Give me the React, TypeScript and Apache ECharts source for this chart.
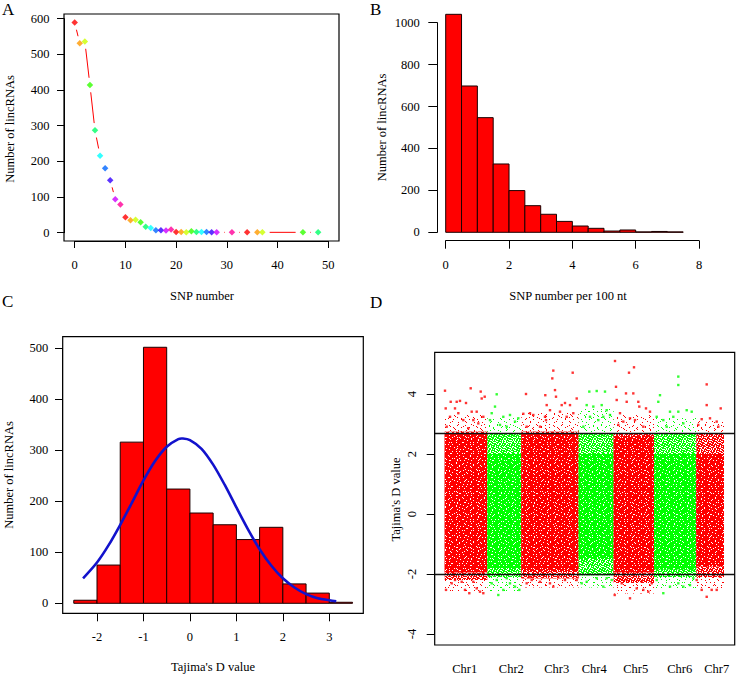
import React, { useEffect, useRef } from "react";
import * as echarts from "echarts";

const FONT = "'Liberation Serif', 'Times New Roman', serif";

// ---------- Panel A: SNP number vs number of lincRNAs ----------
const snpNumbers = [0, 1, 2, 3, 4, 5, 6, 7, 8, 9, 10, 11, 12, 13, 14, 15, 16, 17, 18, 19, 20, 21, 22, 23, 24, 25, 26, 27, 28, 31, 34, 36, 37, 45, 48];
const lincCountsA = [589, 531, 536, 414, 287, 216, 181, 147, 94, 79, 43, 35, 36, 29, 17, 13, 7, 7, 6, 9, 2, 2, 1, 4, 2, 2, 2, 1, 1, 1, 1, 1, 1, 1, 1];
const rainbow10 = ["#FF0000", "#FF9900", "#CCFF00", "#33FF00", "#00FF66", "#00FFFF", "#0066FF", "#3300FF", "#CC00FF", "#FF0099"];

// ---------- Panel B: SNP number per 100 nt histogram ----------
const binStartB = [0, 0.5, 1, 1.5, 2, 2.5, 3, 3.5, 4, 4.5, 5, 5.5, 6, 6.5, 7];
const binEndB = [0.5, 1, 1.5, 2, 2.5, 3, 3.5, 4, 4.5, 5, 5.5, 6, 6.5, 7, 7.5];
const countsB = [1040, 698, 547, 326, 199, 127, 86, 52, 30, 19, 6, 11, 2, 4, 2];

// ---------- Panel C: Tajima's D histogram + normal curve ----------
const binStartC = [-2.5, -2, -1.5, -1, -0.5, 0, 0.5, 1, 1.5, 2, 2.5, 3];
const binEndC = [-2, -1.5, -1, -0.5, 0, 0.5, 1, 1.5, 2, 2.5, 3, 3.5];
const countsC = [6, 75, 316, 502, 224, 177, 154, 125, 149, 38, 20, 2];
const curveX = [-2.3, -2.0, -1.75, -1.5, -1.25, -1.0, -0.75, -0.5, -0.25, -0.15, 0, 0.25, 0.5, 0.75, 1.0, 1.25, 1.5, 1.75, 2.0, 2.25, 2.5, 2.75, 3.0, 3.15];
const curveY = [49, 80, 114, 154, 197, 241, 279, 307, 322, 323, 320, 303, 272, 232, 188, 145, 106, 74, 49, 31, 18, 10, 6, 4];

// ---------- Panel D: Tajima's D along chromosomes ----------
const chrNames = ["Chr1", "Chr2", "Chr3", "Chr4", "Chr5", "Chr6", "Chr7"];
const chrLabelPos = [30, 76.6, 122, 159.5, 201, 245, 282];
const chrStart = [10, 52.6, 86.6, 144, 179, 219.3, 261.6];
const chrEnd = [52.6, 86.6, 144, 179, 219.3, 261.6, 289.3];
const chrColor = ["#FF0000", "#00FF00", "#FF0000", "#00FF00", "#FF0000", "#00FF00", "#FF0000"];
const coreLow = [-1.95, -1.8, -1.9, -1.5, -1.95, -1.85, -1.75];
const coreHigh = [2.7, 2.0, 2.7, 2.0, 2.6, 2.0, 2.0];
const midLow = [-2.2, -2.1, -2.15, -2.05, -2.3, -2.1, -2.1];
const midHigh = [2.75, 2.7, 2.75, 2.7, 2.7, 2.7, 2.7];
const sparseLow = [-2.6, -2.6, -2.45, -2.45, -2.65, -2.5, -2.5];
const sparseHigh = [3.3, 3.2, 3.4, 3.5, 3.3, 3.2, 3.1];
const thresholdHigh = 2.7;
const thresholdLow = -2.0;

const redOutliers = [
  [10.3, 4.11], [16, 3.74], [22, 3.74], [25.3, 3.77], [31.3, 3.7], [36, 4.19], [46, 4.08], [47, 3.85], [11, 3.52], [20.3, 3.52],
  [23.6, 3.36], [37, 3.41], [42, 3.41], [28.6, 3.13], [38.6, 3.13], [15.3, 3.24], [43.6, 3.02], [12, 2.91], [33.6, 2.86], [48.6, 3.24], [50, 3.91],
  [91.3, 4.0], [118.6, 4.78], [117.6, 4.52], [138, 4.71], [110.6, 3.96], [120.3, 4.13], [121.3, 3.91], [112, 3.63], [110.3, 3.24], [111.3, 3.13],
  [95.3, 3.36], [98.6, 3.3], [88.6, 3.34], [115.3, 3.46], [125.3, 3.41], [127, 3.63], [130.3, 3.7], [135.3, 3.63], [142, 3.85], [138.6, 3.36],
  [132, 3.24], [92, 2.91], [105.3, 2.91],
  [180.3, 5.1], [199.3, 4.89], [194.3, 4.71], [181.3, 4.24], [191.3, 4.02], [198.6, 4.02], [182, 3.8], [192, 3.74], [203.6, 3.74], [204.6, 3.58],
  [211.3, 3.52], [215.3, 3.41], [185.3, 3.36], [195.3, 3.19], [200.3, 3.13], [183.6, 2.97], [208.6, 2.91], [188.6, 3.08],
  [272, 4.32], [272, 3.63], [286, 3.52], [267, 3.16], [275.3, 3.19], [282, 3.08], [263.6, 2.97], [283.6, 2.91],
  [11.3, -2.53], [17, -2.31], [20.3, -2.2], [30.3, -2.53], [34.6, -2.64], [42, -2.48], [45.3, -2.59], [48.6, -2.64], [27, -2.26], [38.6, -2.26],
  [92, -2.31], [97, -2.2], [105.3, -2.26], [115.3, -2.31], [118.6, -2.42], [123.6, -2.09], [130.3, -2.2], [142, -2.2], [95.3, -2.09],
  [180, -2.7], [187, -2.31], [195.3, -2.81], [202, -2.48], [208.6, -2.53], [213.6, -2.59], [217, -2.31], [192, -2.2], [207, -2.26],
  [262, -2.2], [267, -2.53], [272, -2.76], [277, -2.53], [282, -2.53], [285.3, -2.09],
];
const greenOutliers = [
  [62, 3.99], [60.3, 3.58], [57, 3.36], [68.6, 3.24], [75.3, 3.3], [80.3, 3.08], [83.6, 3.19], [65.3, 2.97], [72, 2.91], [55.3, 3.13],
  [154.6, 4.08], [162, 4.1], [170.3, 4.08], [152, 3.63], [158.6, 3.58], [167, 3.63], [172, 3.46], [155.3, 3.24], [163.6, 3.13], [168.6, 3.24],
  [148.6, 2.91], [175.3, 3.3],
  [243.6, 4.58], [243.6, 4.3], [225.3, 3.96], [223.6, 3.74], [235.3, 3.41], [243.6, 3.41], [252, 3.46], [257, 3.41], [222, 3.24], [228.6, 3.13],
  [238.6, 3.24], [248.6, 3.02], [232, 2.91],
  [57, -2.31], [63.6, -2.7], [68.6, -2.53], [75.3, -2.31], [80.3, -2.42], [84.6, -2.53], [62, -2.2], [72, -2.14],
  [147, -2.31], [152, -2.26], [162, -2.14], [168.6, -2.42], [172, -2.14], [177, -2.2],
  [222, -2.2], [228.6, -2.64], [235.3, -2.42], [243.6, -2.31], [248.6, -2.42], [255.3, -2.37], [258.6, -2.14],
];

const tickLabel = { color: "#000", fontFamily: FONT, fontSize: 12.5 };

// speckle textures (styling only) for the dense point clouds of panel D
const coreSpecksA = [[1, 1], [4, 3], [2, 5]];
const coreSpecksB = [[0, 2], [5, 0], [8, 4], [3, 7], [9, 9], [6, 8]];
const midSpecksA = [[0, 0], [2, 1], [4, 2], [1, 3], [3, 4], [0, 2]];
const midSpecksB = [[1, 0], [4, 1], [7, 1], [2, 3], [6, 3], [0, 5], [4, 5], [8, 6], [2, 7], [5, 8], [7, 8], [3, 2], [0, 8]];
const sparseDotsA = [[1, 1], [5, 3], [2, 6]];
const sparseDotsB = [[0, 0], [6, 2], [10, 5], [3, 8], [8, 10], [12, 12]];

function tile(size: number, marks: number[][], markColor: string) {
  const rects = marks
    .map(([x, y, w = 1, h = 1]) => `<rect x='${x}' y='${y}' width='${w}' height='${h}' fill='${markColor}'/>`)
    .join("");
  const svg = `<svg xmlns='http://www.w3.org/2000/svg' width='${size}' height='${size}' shape-rendering='crispEdges'>${rects}</svg>`;
  return { image: "data:image/svg+xml;charset=utf-8," + encodeURIComponent(svg), repeat: "repeat", imageWidth: size, imageHeight: size };
}

const GAP = 7.3; // R type="b" gap around points, px

function histSeries(gridIdx: number, starts: number[], ends: number[], counts: number[]) {
  return {
    type: "custom",
    xAxisIndex: gridIdx,
    yAxisIndex: gridIdx,
    clip: false,
    data: starts.map((s, i) => [s, ends[i], counts[i]]),
    encode: { x: [0, 1], y: 2 },
    renderItem: (params: any, api: any) => {
      const p0 = api.coord([api.value(0), api.value(2)]);
      const p1 = api.coord([api.value(1), 0]);
      return {
        type: "rect",
        shape: { x: p0[0], y: p0[1], width: p1[0] - p0[0], height: p1[1] - p0[1] },
        style: { fill: "#FF0000", stroke: "#1a0000", lineWidth: 1 },
      };
    },
  };
}

function textEl(text: string, x: number, y: number, size: number, rotate = false, align = "center") {
  return {
    type: "text",
    x,
    y,
    rotation: rotate ? Math.PI / 2 : 0,
    z: 20,
    style: {
      text,
      fill: "#000",
      fontFamily: FONT,
      fontSize: size,
      align,
      verticalAlign: "middle",
      textAlign: align,
      textVerticalAlign: "middle",
    },
  };
}

function boxEl(x: number, y: number, w: number, h: number) {
  return {
    type: "rect",
    z: 15,
    shape: { x, y, width: w, height: h },
    style: { fill: "none", stroke: "#000", lineWidth: 1.2 },
  };
}

function buildOption() {
  const overlays: Record<string, any[][]> = {};
  ["#FF0000", "#00FF00"].forEach((c) => {
    overlays[c] = [
      [tile(8, sparseDotsA, c), tile(13, sparseDotsB, c)],
      [tile(5, midSpecksA, "#FFFFFF"), tile(9, midSpecksB, "#FFFFFF")],
      [tile(7, coreSpecksA, "#FFFFFF"), tile(11, coreSpecksB, "#FFFFFF")],
    ];
  });

  const bandRows: { color: string; level: number }[] = [];
  const bandData: number[][] = [];
  chrNames.forEach((_, i) => {
    bandData.push([chrStart[i], chrEnd[i], sparseLow[i], sparseHigh[i]]);
    bandRows.push({ color: chrColor[i], level: 0 });
    bandData.push([chrStart[i], chrEnd[i], midLow[i], midHigh[i]]);
    bandRows.push({ color: chrColor[i], level: 1 });
    bandData.push([chrStart[i], chrEnd[i], coreLow[i], coreHigh[i]]);
    bandRows.push({ color: chrColor[i], level: 2 });
  });

  const segData = snpNumbers.slice(0, -1).map((x, i) => [x, lincCountsA[i], snpNumbers[i + 1], lincCountsA[i + 1]]);

  const noSplit = { show: false };
  const tick = (len: number) => ({ show: true, length: len, lineStyle: { color: "#000", width: 1 } });
  const line = { show: true, onZero: false, lineStyle: { color: "#000", width: 1 } };
  const hiddenLine = { show: false, onZero: false };

  return {
    animation: false,
    backgroundColor: "#fff",
    grid: [
      { left: 74.7, top: 18.7, width: 253.6, height: 214 },
      { left: 445.7, top: 22.7, width: 253.3, height: 209.6 },
      { left: 97, top: 348.3, width: 232.3, height: 255 },
      { left: 434.7, top: 394, width: 300, height: 240 },
    ],
    xAxis: [
      {
        type: "value", gridIndex: 0, min: 0, max: 50, interval: 10, offset: 8.3,
        axisLine: line, axisTick: tick(7), splitLine: noSplit,
        axisLabel: { ...tickLabel, margin: 17, formatter: (v: number) => String(v) },
      },
      {
        type: "value", gridIndex: 1, min: 0, max: 8, interval: 2, offset: 8.4,
        axisLine: line, axisTick: tick(8), splitLine: noSplit,
        axisLabel: { ...tickLabel, margin: 17.5, formatter: (v: number) => String(v) },
      },
      {
        type: "value", gridIndex: 2, min: -2, max: 3, interval: 1, offset: 10,
        axisLine: line, axisTick: tick(8), splitLine: noSplit,
        axisLabel: { ...tickLabel, margin: 17.5, formatter: (v: number) => String(v) },
      },
      {
        type: "value", gridIndex: 3, min: 0, max: 300, offset: 11,
        axisLine: hiddenLine, axisTick: { show: false }, splitLine: noSplit,
        axisLabel: {
          ...tickLabel, margin: 17,
          customValues: chrLabelPos,
          formatter: (v: number) => {
            const i = chrLabelPos.findIndex((p) => Math.abs(p - v) < 0.01);
            return i >= 0 ? chrNames[i] : "";
          },
        },
      },
    ],
    yAxis: [
      {
        type: "value", gridIndex: 0, min: 0, max: 600, interval: 100, offset: 10.7,
        axisLine: line, axisTick: tick(7), splitLine: noSplit,
        axisLabel: { ...tickLabel, margin: 14.5, formatter: (v: number) => String(v) },
      },
      {
        type: "value", gridIndex: 1, min: 0, max: 1000, interval: 200, offset: 8.4,
        axisLine: line, axisTick: tick(9), splitLine: noSplit,
        axisLabel: { ...tickLabel, margin: 17.6, formatter: (v: number) => String(v) },
      },
      {
        type: "value", gridIndex: 2, min: 0, max: 500, interval: 100, offset: 34.3,
        axisLine: line, axisTick: tick(7.7), splitLine: noSplit,
        axisLabel: { ...tickLabel, margin: 14.4, formatter: (v: number) => String(v) },
      },
      {
        type: "value", gridIndex: 3, min: -4, max: 4, interval: 2,
        axisLine: line, axisTick: tick(8), splitLine: noSplit,
        axisLabel: { ...tickLabel, margin: 16, rotate: 90, formatter: (v: number) => String(v) },
      },
    ],
    series: [
      {
        // connecting line drawn as in R type="b" (gaps around points)
        type: "custom",
        xAxisIndex: 0,
        yAxisIndex: 0,
        clip: false,
        data: segData,
        encode: { x: [0, 2], y: [1, 3] },
        renderItem: (params: any, api: any) => {
          const p0 = api.coord([api.value(0), api.value(1)]);
          const p1 = api.coord([api.value(2), api.value(3)]);
          const dx = p1[0] - p0[0];
          const dy = p1[1] - p0[1];
          const len = Math.sqrt(dx * dx + dy * dy);
          if (len <= 2 * GAP) return null;
          const ux = dx / len;
          const uy = dy / len;
          return {
            type: "line",
            shape: { x1: p0[0] + ux * GAP, y1: p0[1] + uy * GAP, x2: p1[0] - ux * GAP, y2: p1[1] - uy * GAP },
            style: { stroke: "#FF0000", lineWidth: 1 },
          };
        },
        z: 2,
      },
      {
        type: "scatter",
        xAxisIndex: 0,
        yAxisIndex: 0,
        clip: false,
        symbol: "diamond",
        symbolSize: 6.5,
        data: snpNumbers.map((x, i) => ({ value: [x, lincCountsA[i]], itemStyle: { color: rainbow10[i % 10] } })),
        z: 3,
      },
      histSeries(1, binStartB, binEndB, countsB),
      histSeries(2, binStartC, binEndC, countsC),
      {
        type: "custom",
        xAxisIndex: 2,
        yAxisIndex: 2,
        clip: false,
        data: curveX.map((x, i) => [x, curveY[i]]),
        encode: { x: 0, y: 1 },
        renderItem: (params: any, api: any) => {
          if (params.dataIndex !== 0) return null;
          const pts = curveX.map((x, i) => api.coord([x, curveY[i]]));
          return {
            type: "polyline",
            shape: { points: pts, smooth: 0.3 },
            style: { stroke: "#1212CC", lineWidth: 2.6, fill: "none" },
          };
        },
        z: 5,
      },
      {
        type: "custom",
        xAxisIndex: 3,
        yAxisIndex: 3,
        clip: false,
        data: bandData,
        encode: { x: [0, 1], y: [2, 3] },
        renderItem: (params: any, api: any) => {
          const b = bandRows[params.dataIndex];
          const p0 = api.coord([api.value(0), api.value(3)]);
          const p1 = api.coord([api.value(1), api.value(2)]);
          const shape = { x: p0[0], y: p0[1], width: p1[0] - p0[0], height: p1[1] - p0[1] };
          const [pa, pb] = overlays[b.color][b.level];
          const children: any[] = [];
          if (b.level > 0) children.push({ type: "rect", shape, style: { fill: b.color } });
          children.push({ type: "rect", shape, style: { fill: pa } });
          children.push({ type: "rect", shape, style: { fill: pb } });
          return { type: "group", children };
        },
        z: 2,
      },
      {
        type: "scatter",
        xAxisIndex: 3,
        yAxisIndex: 3,
        clip: false,
        symbol: "rect",
        symbolSize: 2.4,
        itemStyle: { color: "#FF0000" },
        data: redOutliers,
        z: 3,
      },
      {
        type: "scatter",
        xAxisIndex: 3,
        yAxisIndex: 3,
        clip: false,
        symbol: "rect",
        symbolSize: 2.4,
        itemStyle: { color: "#00FF00" },
        data: greenOutliers,
        z: 3,
        markLine: {
          silent: true,
          symbol: ["none", "none"],
          label: { show: false },
          lineStyle: { color: "#111", width: 1.4, type: "solid" },
          data: [{ yAxis: thresholdHigh }, { yAxis: thresholdLow }],
        },
      },
    ],
    graphic: [
      boxEl(64, 14, 275, 227),
      boxEl(62.7, 336.7, 300.6, 276.6),
      boxEl(434.7, 352.3, 300, 292.7),
      textEl("A", 2, 9, 17, false, "left"),
      textEl("B", 370, 9, 17, false, "left"),
      textEl("C", 2, 301, 17, false, "left"),
      textEl("D", 370, 302, 17, false, "left"),
      textEl("SNP number", 202, 296, 12.5),
      textEl("SNP number per 100 nt", 568, 296, 12.5),
      textEl("Tajima's D value", 213, 667, 12.5),
      textEl("Number of lincRNAs", 10, 129, 12.5, true),
      textEl("Number of lincRNAs", 381.5, 127.5, 12.5, true),
      textEl("Number of lincRNAs", 9, 475, 12.5, true),
      textEl("Tajima's D value", 396, 499.5, 12.5, true),
    ],
  };
}

export default function App() {
  const ref = useRef<HTMLDivElement>(null);
  useEffect(() => {
    if (!ref.current) return;
    const chart = echarts.init(ref.current, null, { renderer: "svg" });
    chart.setOption(buildOption() as any);
    return () => chart.dispose();
  }, []);
  return (
    <div
      ref={ref}
      style={{ position: "absolute", left: 0, top: 0, width: 736, height: 677, background: "#fff" }}
    />
  );
}
